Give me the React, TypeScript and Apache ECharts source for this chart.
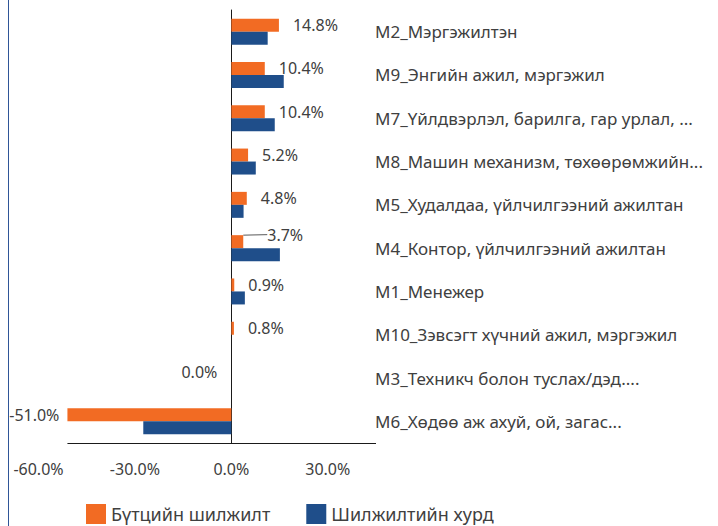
import React, { useEffect, useRef } from "react";
import * as echarts from "echarts";

const categories = [
  "M2_Мэргэжилтэн",
  "M9_Энгийн ажил, мэргэжил",
  "M7_Үйлдвэрлэл, барилга, гар урлал, ...",
  "M8_Машин механизм, төхөөрөмжийн...",
  "M5_Худалдаа, үйлчилгээний ажилтан",
  "M4_Контор, үйлчилгээний ажилтан",
  "M1_Менежер",
  "M10_Зэвсэгт хүчний ажил, мэргэжил",
  "M3_Техникч болон туслах/дэд....",
  "M6_Хөдөө аж ахуй, ой, загас...",
];
const structuralShift = [14.8, 10.4, 10.4, 5.2, 4.8, 3.7, 0.9, 0.8, 0.0, -51.0];
const shiftRate = [11.3, 16.3, 13.5, 7.6, 3.8, 15.1, 4.2, 0, 0, -27.4];
const seriesNames = ["Бүтцийн шилжилт", "Шилжилтийн хурд"];
const xTicks = [-60, -30, 0, 30];
const movedLabelCategory = "M4_Контор, үйлчилгээний ажилтан";

const ORANGE = "#f26b23";
const BLUE = "#1f4e8a";
const TEXT = "#404040";
const FONT = "'Noto Sans', sans-serif";

export default function App() {
  const ref = useRef<HTMLDivElement>(null);
  useEffect(() => {
    if (!ref.current) return;
    const chart = echarts.init(ref.current, null, { renderer: "svg" });
    const movedIdx = categories.indexOf(movedLabelCategory);
    chart.setOption({
      animation: false,
      textStyle: { fontFamily: FONT },
      grid: { left: 38.5, right: 342, top: 10, bottom: 83, containLabel: false },
      legend: {
        left: 86,
        top: 504,
        padding: 0,
        itemWidth: 20,
        itemHeight: 20,
        itemGap: 36,
        icon: "rect",
        textStyle: { fontSize: 18, color: TEXT, fontFamily: FONT },
        data: seriesNames,
      },
      xAxis: {
        type: "value",
        min: -60,
        max: 45,
        interval: 15,
        splitLine: { show: false },
        axisLine: { show: false },
        axisTick: { show: false },
        axisLabel: {
          margin: 18,
          fontSize: 16,
          color: TEXT,
          formatter: (v: number) => (xTicks.includes(v) ? v.toFixed(1) + "%" : ""),
        },
      },
      yAxis: [
        {
          type: "category",
          data: categories,
          inverse: true,
          axisLine: { show: true, onZero: true, lineStyle: { color: "#1a1a1a", width: 1 } },
          axisTick: { show: false },
          axisLabel: { show: false },
        },
        {
          type: "category",
          data: categories,
          inverse: true,
          position: "right",
          axisLine: { show: false },
          axisTick: { show: false },
          axisLabel: { show: true, align: "left", margin: -1, fontSize: 17, color: TEXT },
        },
      ],
      series: [
        {
          name: seriesNames[0],
          type: "bar",
          yAxisIndex: 0,
          barGap: "0%",
          barCategoryGap: "40%",
          itemStyle: { color: ORANGE },
          data: structuralShift.map((v, i) => ({
            value: v,
            label:
              v < 0
                ? { position: "left", distance: 8 }
                : v === 0
                ? { position: "left", distance: 14 }
                : { position: "right" },
            labelLine: { show: i === movedIdx },
          })),
          label: {
            show: true,
            distance: 14,
            fontSize: 16,
            color: TEXT,
            offset: [0, -2],
            formatter: (p: any) => Number(p.value).toFixed(1) + "%",
          },
          labelLine: { show: false, lineStyle: { color: "#595959", width: 1 } },
          labelLayout: (p: any) => (p.dataIndex === movedIdx ? { dx: 10, dy: -7 } : {}),
        },
        {
          name: seriesNames[1],
          type: "bar",
          yAxisIndex: 0,
          barGap: "0%",
          barCategoryGap: "40%",
          itemStyle: { color: BLUE },
          data: shiftRate,
        },
      ],
    });
    // bottom axis line from the minimum data value to the axis maximum
    const minVal = Math.min(...structuralShift, ...shiftRate);
    const pMin = chart.convertToPixel({ xAxisIndex: 0 }, minVal) as unknown as number;
    const pMax = chart.convertToPixel({ xAxisIndex: 0 }, 45) as unknown as number;
    const gridRect = (chart as any).getModel().getComponent("grid", 0).coordinateSystem.getRect();
    const yb = Math.round(gridRect.y + gridRect.height) + 0.5;
    chart.setOption({
      graphic: [
        {
          type: "line",
          shape: { x1: pMin, y1: yb, x2: pMax, y2: yb },
          style: { stroke: "#1a1a1a", lineWidth: 1 },
          silent: true,
        },
      ],
    });
    return () => chart.dispose();
  }, []);
  return (
    <div
      style={{
        position: "absolute",
        left: 0,
        top: 0,
        width: 718,
        height: 526,
        background: "#fff",
      }}
    >
      <div
        style={{ position: "absolute", left: 8, top: 0, width: 0, height: 526, borderLeft: "1px solid #2f5597" }}
      />
      <div ref={ref} style={{ position: "absolute", left: 0, top: 0, width: 718, height: 526 }} />
    </div>
  );
}
